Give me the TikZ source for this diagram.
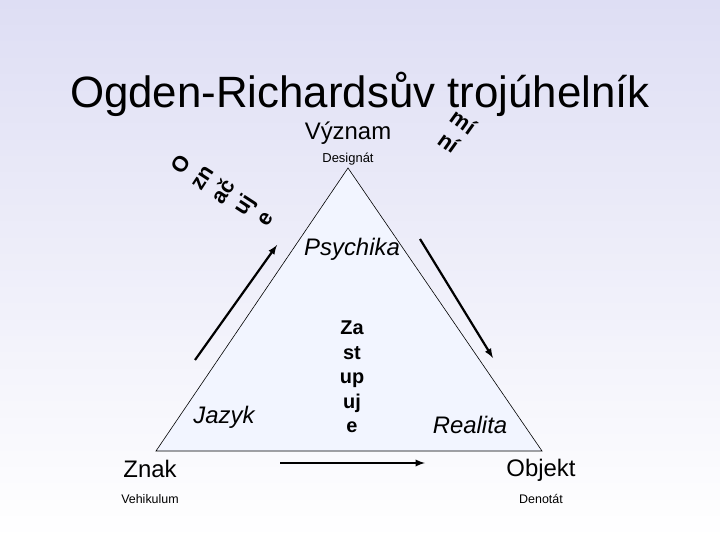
\documentclass[tikz,border=0pt]{standalone}
\usepackage{fontspec}
\setmainfont{Liberation Sans}
\usetikzlibrary{arrows}
\definecolor{bgtop}{RGB}{222,222,244}
\definecolor{trifill}{RGB}{242,245,255}

\begin{document}
\begin{tikzpicture}[x=1bp,y=-1bp]
        \tikzstyle{every node}=[inner sep=0pt,text=black]
        \tikzstyle{big}=[font=\fontsize{24}{28}\selectfont,anchor=base]
        \tikzstyle{small}=[font=\fontsize{12.5}{15}\selectfont,anchor=base]
        \tikzstyle{stacked}=[font=\fontsize{20}{24.6}\selectfont\bfseries,align=center]
        \tikzstyle{tilted}=[font=\fontsize{22}{25}\selectfont\bfseries,align=center]
        \tikzstyle{arr}=[->,>=latex,line width=2.2bp]
        \shade[top color=bgtop,bottom color=white] (0,0) rectangle (720,540);
        % triangle
        \coordinate (apex) at (348,168);
        \coordinate (lcorner) at (156,451);
        \coordinate (rcorner) at (542,451);
        \filldraw[fill=trifill,line width=0.6bp] (apex) -- (lcorner) -- (rcorner) -- cycle;
        \node[font=\fontsize{44}{50}\selectfont,anchor=base] (title) at (360,108) {Ogden-Richardsův trojúhelník};
        \node[big] (vyznam) at (348,140) {Význam};
        \node[small,font=\fontsize{13}{15}\selectfont] (designat) at (348,163) {Designát};
        \node[big,font=\fontsize{24}{28}\selectfont\itshape] (psychika) at (352,256) {Psychika};
        \node[big,font=\fontsize{24}{28}\selectfont\itshape] (jazyk) at (224,423) {Jazyk};
        \node[big,font=\fontsize{24}{28}\selectfont\itshape] (realita) at (470,433) {Realita};
        \node[big] (znak) at (150,477) {Znak};
        \node[big] (objekt) at (541,476) {Objekt};
        \node[small] (vehikulum) at (150,503) {Vehikulum};
        \node[small] (denotat) at (541,503) {Denotát};
        % relations
        \node[stacked] (zastupuje) at (352,377) {Za\\st\\up\\uj\\e};
        \node[tilted,rotate=57] (oznacuje) at (223,191) {O\\zn\\ač\\uj\\e};
        \node[tilted,rotate=-35.5] (mini) at (456,132) {mí\\ní};
        % arrows
        \coordinate (lstart) at (195,360);
        \coordinate (lend) at (277,245);
        \coordinate (rstart) at (420,239);
        \coordinate (rend) at (493,358);
        \coordinate (bstart) at (280,463);
        \coordinate (bend) at (425,463);
        \draw[arr] (lstart) -- (lend);
        \draw[arr] (rstart) -- (rend);
        \draw[arr] (bstart) -- (bend);
\end{tikzpicture}
\end{document}
